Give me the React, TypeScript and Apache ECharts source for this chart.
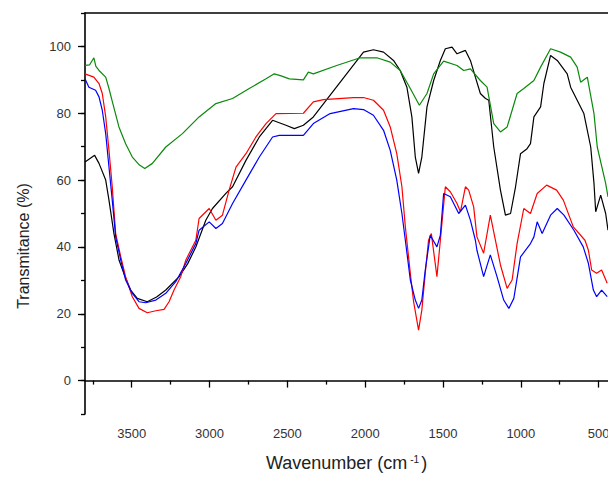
import React, { useEffect, useRef } from 'react';
import * as echarts from 'echarts';

// FTIR spectra: [wavenumber (cm-1), transmittance (%)]
const blackSpectrum: [number, number][] = [
  [3800, 65.4], [3738, 67.4], [3710, 65], [3667, 60], [3646, 54], [3614, 44], [3581, 36], [3550, 32],
  [3507, 27.1], [3464, 24.6], [3400, 23.6], [3340, 25], [3281, 27.1], [3195, 31.1], [3140, 35], [3088, 40],
  [3024, 48], [2981, 51.5], [2895, 56], [2852, 58], [2766, 65.9], [2680, 72.9], [2595, 77.9], [2509, 76.4],
  [2455, 75.4], [2397, 76.4], [2333, 78.9], [2011, 98.3], [1947, 99], [1882, 98.3], [1818, 95.8], [1775, 92.8],
  [1732, 87.8], [1700, 78.9], [1678, 66.9], [1657, 62], [1636, 66.9], [1603, 81.9], [1560, 89.8], [1517, 95.8],
  [1485, 99.3], [1442, 99.8], [1410, 97.8], [1356, 98.8], [1324, 95.8], [1292, 90.8], [1260, 85.9], [1227, 84.4],
  [1206, 83.9], [1174, 69.9], [1131, 57], [1099, 49.5], [1066, 50], [1034, 58], [1002, 67.9], [960, 69.4],
  [938, 70.9], [916, 78.9], [873, 81.9], [852, 88.9], [809, 97.3], [766, 95.8], [702, 91.8], [680, 87.8],
  [638, 83.9], [595, 79.9], [551, 69.9], [530, 59], [519, 50.5], [487, 55.5], [455, 50], [440, 45],
];

const greenSpectrum: [number, number][] = [
  [3800, 94.3], [3770, 94.5], [3743, 96.6], [3730, 94], [3710, 92.8], [3667, 90.8], [3646, 87.4], [3627, 83.9],
  [3582, 75.9], [3539, 70.9], [3496, 66.9], [3450, 64.5], [3416, 63.5], [3367, 65], [3281, 69.9], [3174, 73.9],
  [3067, 78.9], [2959, 82.9], [2852, 84.4], [2745, 87.4], [2637, 90.3], [2584, 91.8], [2540, 91.2], [2487, 90.3],
  [2397, 90], [2365, 92.3], [2333, 91.8], [2183, 94.3], [2032, 96.6], [1925, 96.6], [1839, 95.3], [1775, 92.8],
  [1710, 87.4], [1652, 82.4], [1603, 85.9], [1560, 91.8], [1496, 95.6], [1410, 94.3], [1367, 92.8], [1324, 93.3],
  [1260, 89.8], [1217, 87.8], [1174, 76.9], [1131, 74.4], [1088, 75.9], [1024, 85.9], [981, 87.4], [916, 89.8],
  [873, 93.8], [809, 99.3], [745, 98.3], [680, 96.8], [638, 93.8], [616, 89.3], [573, 90.8], [530, 79.9],
  [509, 69.9], [455, 59], [440, 55],
];

const redSpectrum: [number, number][] = [
  [3800, 91.8], [3743, 90.8], [3710, 88.9], [3689, 85.9], [3667, 78.9], [3646, 68.9], [3625, 58], [3603, 44],
  [3570, 37], [3539, 31], [3496, 25.1], [3453, 21.6], [3400, 20.3], [3345, 20.9], [3292, 21.3], [3260, 23.6],
  [3228, 27.1], [3185, 31.1], [3152, 36.1], [3088, 42], [3067, 48.5], [3002, 51.5], [2959, 48], [2917, 49.5],
  [2874, 57], [2830, 63.9], [2766, 67.9], [2702, 72.9], [2637, 76.9], [2573, 79.9], [2397, 80], [2333, 83.4],
  [2268, 84.1], [2075, 84.7], [2011, 84.7], [1947, 83.9], [1882, 80.9], [1839, 75.9], [1797, 67.9], [1764, 58],
  [1742, 46], [1710, 32.1], [1689, 23.6], [1657, 15.1], [1636, 21.1], [1614, 32.1], [1593, 42], [1575, 44],
  [1539, 31.1], [1517, 42], [1485, 58], [1453, 56.5], [1410, 53], [1388, 50.5], [1356, 58], [1335, 57],
  [1303, 52], [1282, 43], [1239, 38.1], [1196, 49.5], [1131, 34.6], [1088, 27.6], [1056, 30.1], [1024, 41],
  [981, 51.5], [938, 50], [895, 56], [834, 58.5], [770, 57], [727, 54], [663, 46], [588, 42],
  [566, 39], [545, 33.1], [513, 32.1], [481, 33.1], [445, 29.1],
];

const blueSpectrum: [number, number][] = [
  [3800, 90.3], [3775, 87.8], [3732, 86.9], [3710, 84.9], [3689, 80.9], [3667, 73.9], [3646, 63.9], [3625, 54],
  [3603, 43], [3570, 36], [3539, 30.1], [3496, 26.1], [3453, 23.6], [3410, 23.3], [3345, 24.1], [3281, 26.1],
  [3217, 29.6], [3152, 35.1], [3088, 41], [3067, 45], [3002, 47.5], [2959, 45.5], [2917, 47], [2852, 53],
  [2766, 60], [2680, 66.9], [2595, 72.9], [2552, 73.4], [2397, 73.4], [2333, 76.9], [2225, 79.9], [2075, 81.4],
  [2011, 81.1], [1947, 79.4], [1882, 74.9], [1839, 68.9], [1797, 60], [1764, 50], [1742, 42], [1710, 30.1],
  [1678, 24.1], [1657, 21.6], [1636, 24.1], [1614, 33.1], [1582, 43.5], [1539, 40], [1517, 43.5], [1496, 56],
  [1453, 55], [1399, 50], [1356, 52.5], [1324, 48], [1292, 42], [1282, 39], [1239, 31.1], [1196, 37.6],
  [1153, 31.1], [1110, 24.1], [1077, 21.6], [1045, 24.6], [1002, 37], [938, 41], [916, 43], [895, 47.5],
  [863, 44], [809, 49.5], [766, 51.5], [723, 49.5], [659, 45], [599, 40], [566, 35.1], [534, 27.1],
  [513, 25.1], [481, 27.1], [445, 25.1],
];

const xMajorTicks = [3500, 3000, 2500, 2000, 1500, 1000, 500];
const xMinorTicks = [3750, 3250, 2750, 2250, 1750, 1250, 750];
const yMajorTicks = [0, 20, 40, 60, 80, 100];

const FONT = 'Liberation Sans, Arial, sans-serif';

export default function App() {
  const chartRef = useRef<HTMLDivElement>(null);

  useEffect(() => {
    if (!chartRef.current) return;
    const chart = echarts.init(chartRef.current, null, { renderer: 'svg' });

    const line = (data: [number, number][], color: string) => ({
      type: 'line',
      data,
      xAxisIndex: 0,
      yAxisIndex: 0,
      showSymbol: false,
      lineStyle: { color, width: 1.2 },
      itemStyle: { color },
    });

    const baseX = { type: 'value', inverse: true, min: 440, max: 3800, splitLine: { show: false } };
    const baseY = { type: 'value', min: -10, max: 110, splitLine: { show: false } };

    chart.setOption({
      animation: false,
      grid: { left: 85, right: 0, top: 13, bottom: 63, containLabel: false, outerBoundsMode: 'none' },
      xAxis: [
        {
          ...baseX,
          position: 'bottom',
          axisLine: { lineStyle: { color: '#000', width: 1.6 } },
          axisTick: { customValues: xMajorTicks, length: 7, lineStyle: { color: '#000', width: 1.3 } },
          axisLabel: {
            customValues: xMajorTicks,
            formatter: (v: number) => String(v),
            margin: 13,
            color: '#333',
            fontSize: 13,
            fontFamily: FONT,
          },
          name: 'Wavenumber (cm{sup|-1})',
          nameLocation: 'middle',
          nameGap: 40,
          nameTextStyle: {
            color: '#222',
            fontSize: 18,
            fontFamily: FONT,
            rich: { sup: { fontSize: 10, fontFamily: FONT, color: '#222', verticalAlign: 'top', padding: [0, 2, 0, 3] } },
          },
        },
        {
          ...baseX,
          position: 'bottom',
          axisLine: { show: false },
          axisTick: { customValues: xMinorTicks, length: 4, lineStyle: { color: '#000', width: 1.3 } },
          axisLabel: { show: false },
        },
        {
          ...baseX,
          position: 'top',
          axisLine: { lineStyle: { color: '#000', width: 1.6 } },
          axisTick: { show: false },
          axisLabel: { show: false },
        },
      ],
      yAxis: [
        {
          ...baseY,
          position: 'left',
          axisLine: { show: true, lineStyle: { color: '#000', width: 1.6 } },
          axisTick: { show: true, customValues: yMajorTicks, length: 7, lineStyle: { color: '#000', width: 1.3 } },
          axisLabel: {
            customValues: yMajorTicks,
            formatter: (v: number) => String(v),
            margin: 14,
            color: '#333',
            fontSize: 13,
            fontFamily: FONT,
          },
        },
        {
          ...baseY,
          position: 'left',
          interval: 10,
          axisLine: { show: false },
          axisTick: { show: true, length: 4, lineStyle: { color: '#000', width: 1.3 } },
          axisLabel: { show: false },
        },
      ],
      graphic: [
        {
          type: 'text',
          x: 23,
          y: 246,
          rotation: Math.PI / 2,
          style: {
            text: 'Transmitance (%)',
            fill: '#222',
            fontSize: 16,
            fontFamily: FONT,
            align: 'center',
            verticalAlign: 'middle',
          },
        },
      ],
      series: [
        line(blackSpectrum, '#000000'),
        line(greenSpectrum, '#0a8a0a'),
        line(redSpectrum, '#ff0000'),
        line(blueSpectrum, '#0000ff'),
      ],
    });

    return () => chart.dispose();
  }, []);

  return <div ref={chartRef} style={{ position: 'absolute', left: 0, top: 0, width: 608, height: 477 }} />;
}
